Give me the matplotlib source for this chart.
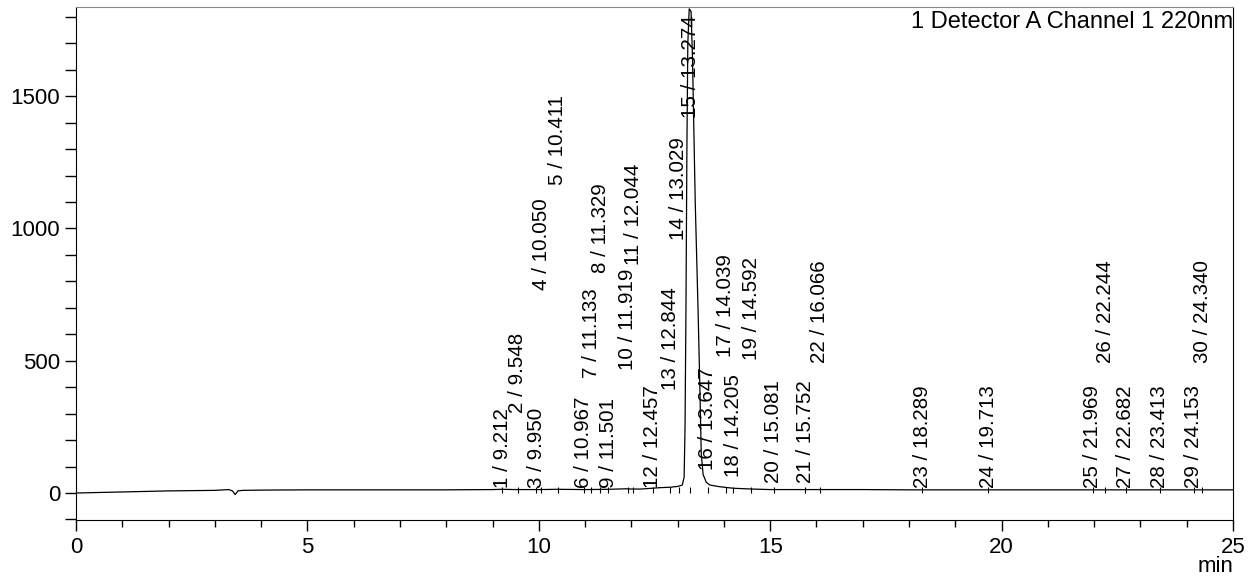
import matplotlib
matplotlib.use('Agg')
import matplotlib.pyplot as plt
from matplotlib.ticker import MultipleLocator

plt.rcParams['font.family'] = ['Liberation Sans', 'DejaVu Sans']

# detector trace (min, mV)
trace_t = [0, 0.5, 1, 1.5, 2, 2.5, 3, 3.3, 3.38, 3.44, 3.5, 3.6, 4, 5, 6, 7, 8,
           9, 9.2, 9.5, 10, 10.4, 11, 11.5, 11.9, 12.0, 12.2, 12.45, 12.6, 12.85,
           13.0, 13.1, 13.14, 13.16, 13.18, 13.20, 13.22, 13.25, 13.29, 13.32,
           13.38, 13.44, 13.48, 13.51, 13.55, 13.62, 13.7, 13.9, 14.2, 14.6,
           15, 16, 17, 18, 19, 20, 21, 22, 23, 24, 25]
trace_y = [0, 2, 4, 6, 8, 9, 10, 13, 8, -6, 8, 10, 11, 12, 12, 12, 12,
           13, 14, 13, 13, 14, 13, 14, 16, 15, 15, 18, 20, 22,
           25, 30, 60, 250, 700, 1300, 1700, 1830, 1820, 1650,
           1100, 700, 400, 150, 70, 40, 30, 24, 18, 15,
           13, 13, 13, 12, 12, 12, 12, 12, 12, 12, 12]

# peak table: number / retention time
peak_no = list(range(1, 31))
peak_rt = [9.212, 9.548, 9.950, 10.050, 10.411, 10.967, 11.133, 11.329, 11.501,
           11.919, 12.044, 12.457, 12.844, 13.029, 13.274, 13.647, 14.039,
           14.205, 14.592, 15.081, 15.752, 16.066, 18.289, 19.713, 21.969,
           22.244, 22.682, 23.413, 24.153, 24.340]

# height where each label starts (layout only)
label_y = [20, 302, 20, 767, 1164, 20, 435, 832, 20, 465, 862, 20, 389, 956,
           1417, 87, 514, 60, 503, 38, 38, 491, 20, 20, 20, 491, 20, 20, 20, 491]

fig = plt.figure(figsize=(12.48, 5.85), dpi=100)
ax = fig.add_axes([76 / 1248, 1 - 520 / 585, (1233 - 76) / 1248, (520 - 7) / 585])

ax.plot(trace_t, trace_y, color='black', lw=0.9)
ax.plot(peak_rt, [12] * len(peak_rt), linestyle='none', marker='|',
        color='black', markersize=5, markeredgewidth=0.8)

for n, rt, ly in zip(peak_no, peak_rt, label_y):
    ax.text(rt, ly, f'{n} / {rt:.3f}', rotation=90, ha='center', va='bottom',
            fontsize=14.8, color='black')

ax.text(1.0, 0.993, '1 Detector A Channel 1 220nm', transform=ax.transAxes,
        ha='right', va='top', fontsize=17)

ax.set_xlim(0, 25)
ax.set_ylim(-102, 1837)
ax.xaxis.set_major_locator(MultipleLocator(5))
ax.xaxis.set_minor_locator(MultipleLocator(1))
ax.yaxis.set_major_locator(MultipleLocator(500))
ax.yaxis.set_minor_locator(MultipleLocator(100))
ax.tick_params(axis='both', which='major', direction='out', length=8,
               width=1, labelsize=16, colors='black')
ax.tick_params(axis='x', which='minor', direction='out', length=5, width=1)
ax.tick_params(axis='y', which='minor', direction='out', length=8, width=1)
ax.tick_params(axis='x', pad=4)

for side in ['left', 'bottom', 'right']:
    ax.spines[side].set_color('black')
ax.spines['top'].set_color('#888888')

fig.text(1233 / 1248, 1 - 567 / 585, 'min', ha='right', va='center', fontsize=16)

fig.savefig('out.png', dpi=100)
